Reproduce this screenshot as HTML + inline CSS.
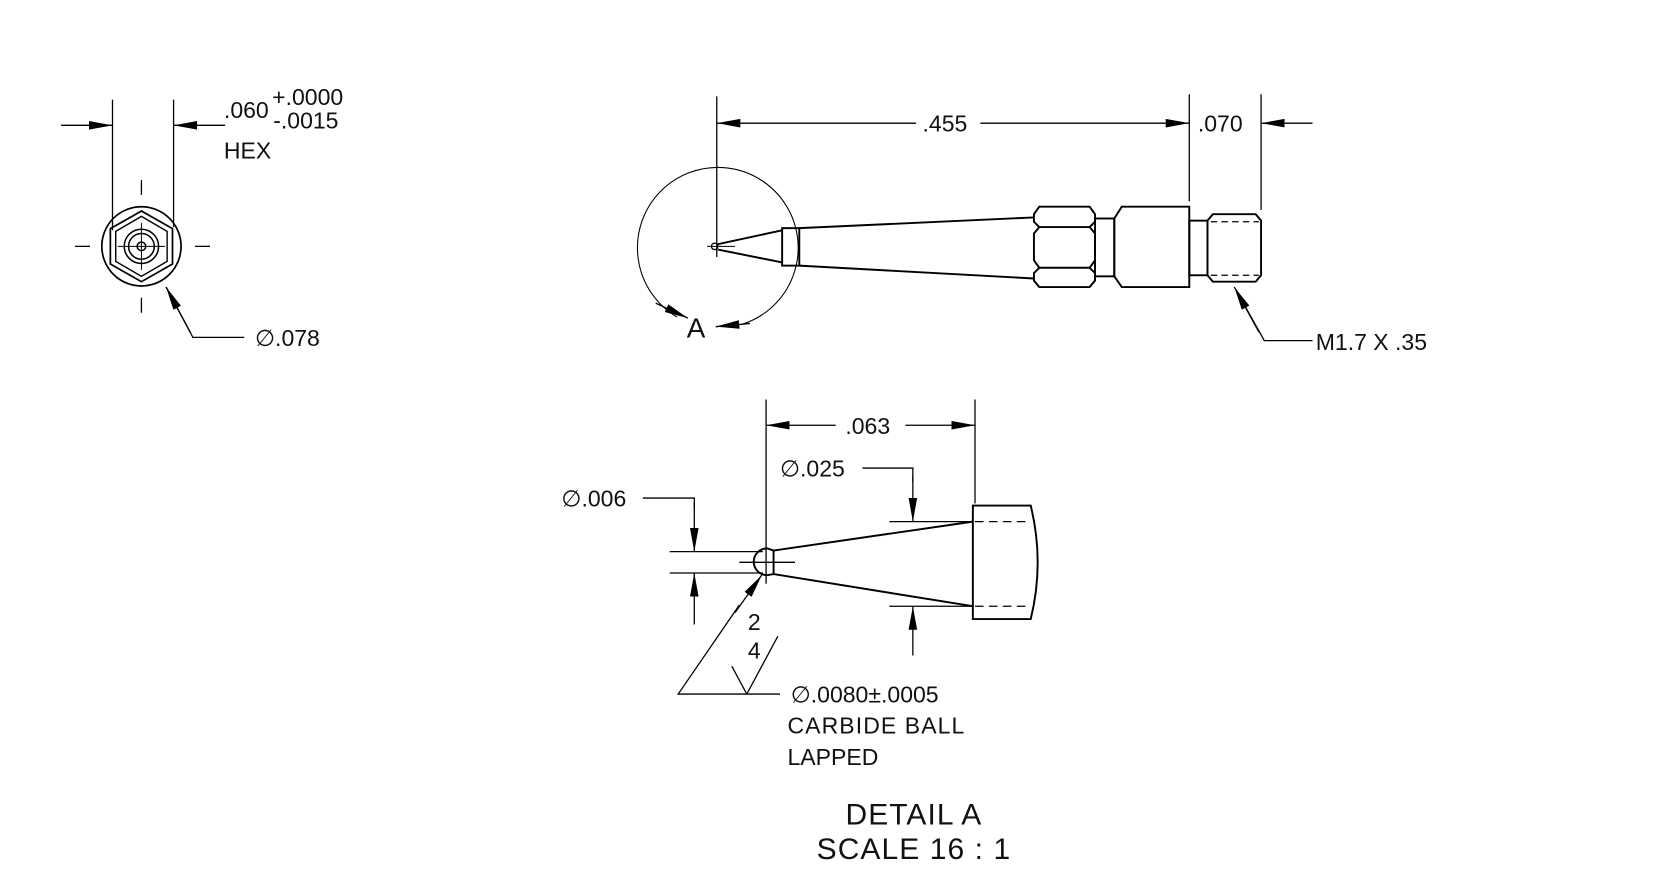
<!DOCTYPE html>
<html><head><meta charset="utf-8"><style>
html,body{margin:0;padding:0;background:#fff}
svg{display:block}
text{font-family:"Liberation Sans",sans-serif;fill:#111}
</style></head><body>
<svg width="1680" height="889" viewBox="0 0 1568 830" preserveAspectRatio="none" xmlns="http://www.w3.org/2000/svg">
<defs>
<marker id="a" markerUnits="userSpaceOnUse" markerWidth="24" markerHeight="10" refX="22" refY="4" orient="auto">
<path d="M0,0 L22,4 L0,8 z" fill="#000"/></marker>
</defs>
<g stroke="#000" fill="none" stroke-width="1.2">
<!-- HEX VIEW -->
<line x1="105" y1="93" x2="105" y2="215"/>
<line x1="162" y1="93" x2="162" y2="212"/>
<line x1="57" y1="117" x2="105" y2="117" marker-end="url(#a)"/>
<line x1="210" y1="117" x2="162" y2="117" marker-end="url(#a)"/>
<circle cx="132" cy="230" r="37" stroke-width="1.6"/>
<polygon points="132,197 161,213.5 161,246.5 132,263 103,246.5 103,213.5" stroke-width="1.6"/>
<polygon points="132,202 156,216 156,244 132,258 108,244 108,216" stroke-width="1.3"/>
<circle cx="132" cy="230" r="16" stroke-width="1.4"/>
<circle cx="132" cy="230" r="12" stroke-width="1.4"/>
<circle cx="132" cy="230" r="4" stroke-width="1.4"/>
<line x1="110" y1="230" x2="154" y2="230" stroke-width=".9"/>
<line x1="132" y1="208" x2="132" y2="252" stroke-width=".9"/>
<line x1="70" y1="230" x2="84" y2="230"/><line x1="182" y1="230" x2="196" y2="230"/>
<line x1="132" y1="168" x2="132" y2="182"/><line x1="132" y1="278" x2="132" y2="292"/>
<polyline points="228,315 180,315 155,268" />
<line x1="178" y1="311" x2="155" y2="268" marker-end="url(#a)"/>
<!-- MAIN VIEW -->
<line x1="669" y1="90" x2="669" y2="240"/>
<line x1="1110" y1="88" x2="1110" y2="188"/>
<line x1="1177" y1="88" x2="1177" y2="196"/>
<line x1="855" y1="115" x2="669" y2="115" marker-end="url(#a)"/>
<line x1="915" y1="115" x2="1110" y2="115" marker-end="url(#a)"/>
<line x1="1225" y1="115" x2="1177" y2="115" marker-end="url(#a)"/>
<path d="M632,296 A75,75 0 1 1 692,303" stroke-width="1"/>
<line x1="612" y1="283" x2="642" y2="297" marker-end="url(#a)"/>
<line x1="700" y1="302" x2="668" y2="305" marker-end="url(#a)"/>
<line x1="660" y1="230" x2="686" y2="230" stroke-width="1"/>
<circle cx="667" cy="230" r="3" stroke-width="1.2"/>
<g stroke-width="1.8">
<line x1="670" y1="228" x2="730" y2="215"/>
<line x1="670" y1="233" x2="730" y2="245"/>
<rect x="730" y="213" width="16" height="35"/>
<line x1="746" y1="213" x2="965" y2="203"/>
<line x1="746" y1="248" x2="965" y2="260"/>
<path d="M970,193 L1017,193 L1022,200 L1022,207 L1017,212 L1022,218 L1022,243 L1017,250 L1022,255 L1022,262 L1017,268 L970,268 L965,262 L965,255 L970,250 L965,243 L965,218 L970,212 L965,207 L965,200 Z"/>
<line x1="970" y1="212" x2="1017" y2="212"/><line x1="970" y1="250" x2="1017" y2="250"/>
<rect x="1022" y="204" width="18" height="54"/>
<path d="M1047,193 L1110,193 L1110,268 L1047,268 L1040,258 L1040,204 Z"/>
<rect x="1110" y="206" width="17" height="51"/>
<path d="M1132,200 L1172,200 L1177,206 L1177,257 L1172,263 L1132,263 L1127,257 L1127,206 Z"/>
</g>
<line x1="1130" y1="207" x2="1175" y2="207" stroke-dasharray="6,4"/>
<line x1="1130" y1="257" x2="1175" y2="257" stroke-dasharray="6,4"/>
<polyline points="1225,318 1180,318 1156,275"/>
<line x1="1175" y1="310" x2="1152" y2="268" marker-end="url(#a)"/>
<!-- DETAIL A -->
<line x1="715" y1="373" x2="715" y2="545"/>
<line x1="910" y1="373" x2="910" y2="470"/>
<line x1="780" y1="397" x2="715" y2="397" marker-end="url(#a)"/>
<line x1="845" y1="397" x2="910" y2="397" marker-end="url(#a)"/>
<polyline points="805,437 852,437 852,450"/>
<line x1="852" y1="445" x2="852" y2="487" marker-end="url(#a)"/>
<line x1="830" y1="487" x2="908" y2="487"/>
<line x1="830" y1="566" x2="908" y2="566"/>
<line x1="852" y1="612" x2="852" y2="566" marker-end="url(#a)"/>
<polyline points="600,465 648,465 648,475"/>
<line x1="648" y1="470" x2="648" y2="515" marker-end="url(#a)"/>
<line x1="625" y1="515" x2="712" y2="515"/>
<line x1="625" y1="535" x2="712" y2="535"/>
<line x1="648" y1="583" x2="648" y2="535" marker-end="url(#a)"/>
<line x1="690" y1="525" x2="742" y2="525"/>
<path d="M722,514 L716,512 A12,12 0 0 0 716,537 L722,536 Z" stroke-width="1.8"/>
<line x1="722" y1="514" x2="908" y2="487" stroke-width="1.8"/>
<line x1="722" y1="536" x2="908" y2="566" stroke-width="1.8"/>
<path d="M908,472 L962,472 Q975,525 962,578 L908,578 Z" stroke-width="1.8"/>
<line x1="910" y1="487" x2="962" y2="487" stroke-dasharray="8,5"/>
<line x1="910" y1="566" x2="962" y2="566" stroke-dasharray="8,5"/>
<polyline points="728,648 633,648 690,565"/>
<line x1="686" y1="572" x2="711" y2="537" marker-end="url(#a)"/>
<line x1="726" y1="594" x2="697" y2="648"/>
<line x1="683" y1="622" x2="697" y2="648"/>
</g>
<g font-size="21.5">
<text x="209" y="110">.060</text>
<text x="254" y="98">+.0000</text>
<text x="255" y="120">-.0015</text>
<text x="209" y="148">HEX</text>
<text x="238" y="323">∅.078</text>
<text x="861" y="123">.455</text>
<text x="1118" y="123">.070</text>
<text x="1228" y="327">M1.7 X .35</text>
<text x="641" y="315" font-size="26">A</text>
<text x="789" y="405">.063</text>
<text x="728" y="445">∅.025</text>
<text x="524" y="473">∅.006</text>
<text x="698" y="588">2</text>
<text x="698" y="615">4</text>
<text x="738" y="656">∅.0080±.0005</text>
<text x="735" y="685" letter-spacing="1">CARBIDE BALL</text>
<text x="735" y="714">LAPPED</text>
<text x="853" y="770" font-size="28" text-anchor="middle" letter-spacing="1">DETAIL A</text>
<text x="853" y="802" font-size="28" text-anchor="middle" letter-spacing="1">SCALE 16 : 1</text>
</g>
</svg>
</body></html>
